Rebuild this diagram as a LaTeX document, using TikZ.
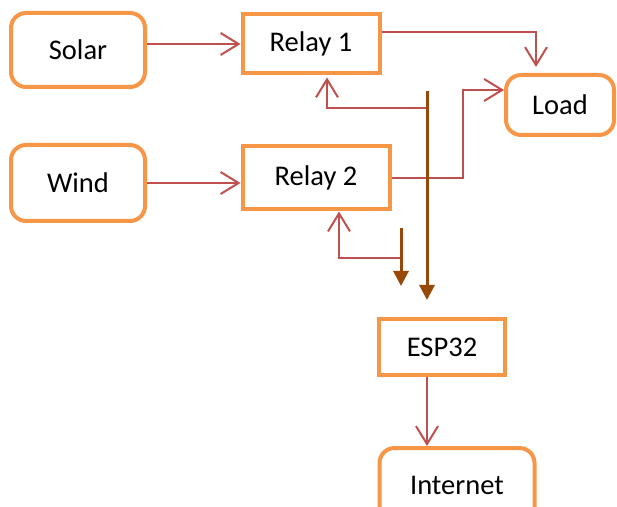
\documentclass[tikz,border=0pt]{standalone}
\usepackage{fontspec}
\setmainfont{Carlito}
\usetikzlibrary{arrows.meta,positioning}
\definecolor{boxorange}{HTML}{F79646}
\definecolor{linkred}{HTML}{C0504D}
\definecolor{busbrown}{HTML}{984807}

\begin{document}
\begin{tikzpicture}[x=1pt,y=1pt,on grid,
   every node/.style={font=\fontsize{28.5}{34}\selectfont},
   rnd/.style={draw=boxorange,line width=4pt,rounded corners=15pt,fill=white},
   sq/.style={draw=boxorange,line width=4pt,fill=white},
   link/.style={draw=linkred,line width=2pt,-{Straight Barb[length=18pt,width=22pt]}},
   bus/.style={draw=busbrown,line width=3pt,-{Triangle[length=15pt,width=15pt]}}]
   \useasboundingbox (0,0) rectangle (617,506);
   \node[rnd,minimum width=134pt,minimum height=74pt] (solar) at (78,456) {Solar};
   \node[sq,minimum width=137pt,minimum height=59pt] (relay1) [above right=6pt and 233pt of solar] {Relay 1};
   \node[rnd,minimum width=134pt,minimum height=76pt] (wind) [below=133pt of solar] {Wind};
   \node[sq,minimum width=147pt,minimum height=63pt] (relay2) [above right=5pt and 238pt of wind] {Relay 2};
   \node[rnd,minimum width=108pt,minimum height=60pt] (load) [below right=61pt and 249pt of relay1] {Load};
   \node[sq,minimum width=126pt,minimum height=56pt] (esp) [below right=169pt and 126pt of relay2] {ESP32};
   \node[rnd,minimum width=155pt,minimum height=74pt] (net) [below right=138pt and 15pt of esp] {Internet};
   % bus lines from the ESP32 side
   \coordinate (bus1) at ([xshift=-15pt,yshift=226pt]esp.north);
   \coordinate (tap1) at ([yshift=-17pt]bus1);
   \coordinate (bus2) at ([xshift=-41pt,yshift=89pt]esp.north);
   \coordinate (tap2) at ([yshift=-30pt]bus2);
   \draw[link] (solar.east |- relay1.west) -- (relay1.west);
   \draw[link] (wind.east) -- (wind.east -| relay2.west);
   \draw[link,shorten >=6pt] ([yshift=12pt]relay1.east) -| ([xshift=-24pt]load.north);
   \draw[link] (relay2.east) -- ++(71,0) |- ([yshift=15pt]load.west);
   \draw[link,shorten >=2pt] (tap1) -| ([xshift=16pt]relay1.south);
   \draw[link] (tap2) -| ([xshift=23pt]relay2.south);
   \draw[bus,shorten >=17pt] (bus1) -- ([xshift=-15pt]esp.north);
   \draw[bus] (bus2) -- ++(0,-58);
   \draw[link] ([xshift=-15pt]esp.south) -- ([xshift=-15pt]esp.south |- net.north);
\end{tikzpicture}
\end{document}
